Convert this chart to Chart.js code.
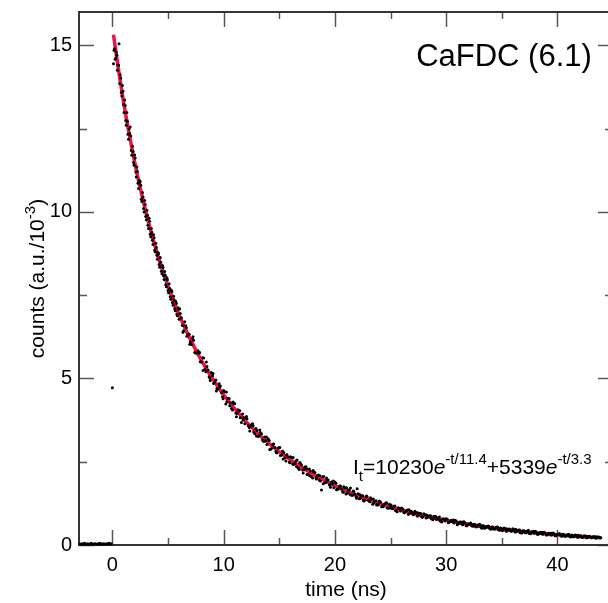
<!DOCTYPE html>
<html><head><meta charset="utf-8">
<script src="https://cdn.jsdelivr.net/npm/chart.js@4.4.0/dist/chart.umd.min.js"></script>
<style>
html,body{margin:0;padding:0;background:#fff;overflow:hidden;width:608px;height:603px}
#wrap{position:absolute;left:0;top:0;width:620px;height:603px}
</style>
</head><body><div id="wrap"><canvas id="c" width="620" height="603"></canvas></div>
<script>
// ---- measured decay (time in ns, counts in a.u./10^-3) ----
const decayTime = [
-2.9,-2.8,-2.7,-2.6,-2.5,-2.4,-2.3,-2.2,-2.1,-2.0,-1.9,-1.8,-1.7,-1.6,-1.5,-1.4,-1.3,-1.2,-1.1,-1.0,-0.9,-0.8,-0.7,-0.6,-0.5,-0.4,-0.3,-0.2,-0.1,
0.0,
0.1,0.2,0.3,0.4,0.5,0.6,0.7,0.8,0.9,1.0,1.1,1.2,1.3,1.4,1.5,1.6,1.7,1.8,1.9,2.0,
2.1,2.2,2.3,2.4,2.5,2.6,2.7,2.8,2.9,3.0,3.1,3.2,3.3,3.4,3.5,3.6,3.7,3.8,3.9,4.0,
4.1,4.2,4.3,4.4,4.5,4.6,4.7,4.8,4.9,5.0,5.1,5.2,5.3,5.4,5.5,5.6,5.7,5.8,5.9,6.0,
6.1,6.3,6.5,6.7,6.9,7.1,7.3,7.5,7.7,7.9,8.1,8.3,8.5,8.7,8.9,9.1,9.3,9.5,9.7,9.9,
10.1,10.3,10.5,10.7,10.9,11.1,11.3,11.5,11.7,11.9,12.1,12.3,12.5,12.7,12.9,13.1,13.3,13.5,13.7,13.9,
14.1,14.3,14.5,14.7,14.9,15.1,15.3,15.5,15.7,15.9,16.1,16.3,16.5,16.7,16.9,17.1,17.3,17.5,17.7,17.9,
18.1,18.3,18.5,18.7,18.9,19.1,19.3,19.5,19.7,19.9,20.1,20.3,20.5,20.7,20.9,21.1,21.3,21.5,21.7,21.9,
22.1,22.3,22.5,22.7,22.9,23.1,23.3,23.5,23.7,23.9,24.1,24.3,24.5,24.7,24.9,25.1,25.3,25.5,25.7,25.9,
26.1,26.3,26.5,26.7,26.9,27.1,27.3,27.5,27.7,27.9,28.1,28.3,28.5,28.7,28.9,29.1,29.3,29.5,29.7,29.9,
30.1,30.3,30.5,30.7,30.9,31.1,31.3,31.5,31.7,31.9,32.1,32.3,32.5,32.7,32.9,33.1,33.3,33.5,33.7,33.9,
34.1,34.3,34.5,34.7,34.9,35.1,35.3,35.5,35.7,35.9,36.1,36.3,36.5,36.7,36.9,37.1,37.3,37.5,37.7,37.9,
38.1,38.3,38.5,38.7,38.9,39.1,39.3,39.5,39.7,39.9,40.1,40.3,40.5,40.7,40.9,41.1,41.3,41.5,41.7,41.9,
42.1,42.3,42.5,42.7,42.9,43.1,43.3,43.5,43.7,43.9,
0.15,0.25,0.35,0.45,0.55,0.65,0.75,0.85,0.95,1.05,1.15,1.25,1.35,1.45,1.55,1.65,1.75,1.85,1.95,2.05,
2.15,2.25,2.35,2.45,2.55,2.65,2.75,2.85,2.95,3.05,3.15,3.25,3.35,3.45,3.55,3.65,3.75,3.85,3.95,4.05,
4.15,4.25,4.35,4.45,4.55,4.65,4.75,4.85,4.95,5.05,5.15,5.25,5.35,5.45,5.55,5.65,5.75,5.85,5.95,
6.2,6.4,6.6,6.8,7.0,7.2,7.4,7.6,7.8,8.0,8.2,8.4,8.6,8.8,9.0,9.2,9.4,9.6,9.8,10.0,
10.2,10.4,10.6,10.8,11.0,11.2,11.4,11.6,11.8,12.0,12.2,12.4,12.6,12.8,13.0,13.2,13.4,13.6,13.8,14.0,
14.2,14.4,14.6,14.8,15.0,15.2,15.4,15.6,15.8,16.0,16.2,16.4,16.6,16.8,17.0,17.2,17.4,17.6,17.8,18.0,
18.2,18.4,18.6,18.8,19.0,19.2,19.4,19.6,19.8,20.0,20.2,20.4,20.6,20.8,21.0,21.2,21.4,21.6,21.8,22.0,
22.2,22.4,22.6,22.8,23.0,23.2,23.4,23.6,23.8,24.0,24.2,24.4,24.6,24.8,25.0,25.2,25.4,25.6,25.8,26.0,
26.2,26.4,26.6,26.8,27.0,27.2,27.4,27.6,27.8,28.0,28.2,28.4,28.6,28.8,29.0,29.2,29.4,29.6,29.8,30.0,
30.2,30.4,30.6,30.8,31.0,31.2,31.4,31.6,31.8,32.0,32.2,32.4,32.6,32.8,33.0,33.2,33.4,33.6,33.8,34.0,
34.2,34.4,34.6,34.8,35.0,35.2,35.4,35.6,35.8,36.0,36.2,36.4,36.6,36.8,37.0,37.2,37.4,37.6,37.8,38.0,
38.2,38.4,38.6,38.8,39.0,39.2,39.4,39.6,39.8,40.0,40.2,40.4,40.6,40.8,41.0,41.2,41.4,41.6,41.8,42.0,
42.2,42.4,42.6,42.8,43.0,43.2,43.4,43.6,43.8,
6.05,6.35,6.65,6.95,7.25,7.55,7.85,8.15,8.45,8.75,9.05,9.35,9.65,9.95,10.25,10.55,10.85,11.15,11.45,11.75,
12.05,12.35,12.65,12.95,13.25,13.55,13.85,14.15,14.45,14.75,15.05,15.35,15.65,15.95,16.25,16.55,16.85,17.15,17.45,17.75,
18.05,18.35,18.65,18.95,19.25,19.55,19.85,20.15,20.45,20.75,21.05,21.35,21.65,21.95,22.25,22.55,22.85,23.15,23.45,23.75,
24.05,24.35,24.65,24.95,
25.05,25.45,25.85,26.25,26.65,27.05,27.45,27.85,28.25,28.65,29.05,29.45,29.85,30.25,30.65,31.05,31.45,31.85,32.25,32.65,
33.05,33.45,33.85,34.25,34.65,35.05,35.45,35.85,36.25,36.65,37.05,37.45,37.85,38.25,38.65,39.05,39.45,39.85,40.25,40.65,
41.05,41.45,41.85,42.25,42.65,43.05,43.45,43.85
];
const decayCounts = [
0.03,0.02,0.04,0.03,0.05,0.02,0.03,0.04,0.02,0.03,0.05,0.03,0.02,0.04,0.03,0.02,0.04,0.03,0.05,0.02,0.03,0.04,0.03,0.02,0.04,0.03,0.05,0.03,0.04,
4.72,
14.45,14.90,14.62,14.70,14.41,15.05,14.12,13.58,13.79,13.22,13.36,12.74,12.98,12.33,12.49,12.55,11.84,11.97,11.48,11.71,
11.20,11.35,10.86,10.95,10.91,10.38,10.58,10.10,10.34,9.86,10.05,9.60,9.81,9.33,9.50,9.15,9.31,8.85,9.06,8.70,
8.78,8.42,8.63,8.22,8.39,8.08,8.21,7.81,8.02,7.64,7.84,7.45,7.65,7.28,7.47,7.10,7.31,6.93,7.12,6.78,
6.95,6.59,6.70,6.27,6.33,6.02,6.15,5.76,5.83,5.50,5.62,5.27,5.36,5.05,5.18,4.85,4.95,4.68,4.77,4.45,
4.60,4.30,4.40,4.10,4.24,3.96,4.06,3.82,3.93,3.64,3.79,3.53,3.61,3.39,3.50,3.26,3.38,3.15,3.24,3.02,
3.14,2.90,3.03,2.81,2.91,2.69,2.82,2.61,2.71,2.49,2.63,2.42,2.52,2.31,2.45,2.25,2.34,2.12,2.28,2.05,
2.19,2.01,2.10,1.92,2.05,1.87,1.96,1.81,1.89,1.72,1.85,1.68,1.77,1.60,1.72,1.56,1.65,1.49,1.61,1.45,
1.54,1.40,1.48,1.34,1.45,1.31,1.38,1.26,1.33,1.20,1.29,1.18,1.24,1.12,1.22,1.10,1.16,1.04,1.12,1.02,
1.08,0.99,1.05,0.94,1.00,0.92,0.97,0.88,0.95,0.85,0.91,0.83,0.88,0.79,0.86,0.77,0.82,0.74,0.79,0.72,
0.77,0.69,0.74,0.66,0.72,0.64,0.69,0.61,0.67,0.60,0.64,0.58,0.62,0.55,0.60,0.54,0.58,0.52,0.56,0.50,
0.54,0.48,0.53,0.46,0.51,0.45,0.49,0.43,0.48,0.42,0.46,0.40,0.45,0.39,0.43,0.37,0.42,0.36,0.40,0.35,
0.39,0.33,0.38,0.32,0.36,0.31,0.35,0.30,0.34,0.29,0.33,0.28,0.32,0.27,0.31,0.26,0.30,0.25,0.29,0.24,
0.28,0.23,0.27,0.22,0.26,0.22,0.25,0.21,0.24,0.22,
14.85,14.58,14.80,14.25,14.40,13.85,14.02,13.48,13.62,12.98,13.19,12.60,12.71,12.18,12.35,12.28,11.70,11.81,11.40,11.62,
11.05,11.21,10.70,10.88,10.80,10.31,10.45,10.00,10.22,9.76,9.90,9.50,9.72,9.25,9.38,9.02,9.22,8.80,8.93,8.58,
8.75,8.34,8.49,8.14,8.33,7.97,8.10,7.75,7.96,7.57,7.70,7.38,7.60,7.20,7.36,7.03,7.25,6.88,7.08,
6.82,6.43,6.58,6.33,6.10,6.21,5.78,5.77,5.76,5.49,5.61,5.20,5.25,4.94,5.08,4.89,4.70,4.84,4.57,4.64,
4.23,4.40,4.27,4.05,4.25,3.95,4.03,3.68,3.83,3.82,3.59,3.56,3.64,3.34,3.44,3.28,3.34,3.11,3.13,3.19,
2.87,3.00,2.93,2.77,2.93,2.70,2.78,2.52,2.64,2.65,2.43,2.45,2.55,2.27,2.40,2.26,2.35,2.12,2.22,2.01,
2.18,2.07,1.95,1.65,2.06,1.88,1.95,1.73,1.84,1.89,1.67,1.75,1.67,1.75,1.53,1.65,1.71,1.49,1.53,1.69,
1.39,1.48,1.32,1.45,1.34,1.42,1.22,1.32,1.22,1.32,1.15,1.21,1.27,1.10,1.18,1.09,1.17,1.00,1.08,1.11,
0.98,1.01,0.92,1.02,0.94,1.01,0.87,0.94,0.85,0.94,0.81,0.86,0.88,0.76,0.83,0.77,0.84,0.69,0.77,0.79,
0.67,0.73,0.69,0.74,0.61,0.69,0.63,0.70,0.58,0.63,0.66,0.56,0.61,0.55,0.62,0.50,0.57,0.53,0.57,0.47,
0.54,0.48,0.54,0.44,0.49,0.51,0.41,0.47,0.42,0.49,0.39,0.43,0.45,0.36,0.42,0.37,0.44,0.34,0.38,0.41,
0.32,0.37,0.34,0.38,0.30,0.35,0.30,0.36,0.28,0.32,0.34,0.26,0.31,0.27,0.32,0.24,0.28,0.30,0.23,0.28,
0.23,0.28,0.22,0.26,0.23,0.25,0.21,0.24,0.22,
7.09,6.39,6.52,6.03,6.25,5.76,5.78,5.24,5.49,5.01,5.15,4.62,4.76,4.39,4.59,4.18,4.29,3.85,4.03,3.75,
3.86,3.42,3.58,3.27,3.45,3.14,3.24,2.87,3.03,2.77,2.93,2.58,2.70,2.47,2.63,2.36,2.48,2.16,2.29,2.08,
2.24,1.98,2.08,1.84,2.01,1.80,1.92,1.66,1.77,1.58,1.72,1.52,1.62,1.40,1.51,1.35,1.47,1.30,1.38,1.20,
1.28,1.15,1.26,1.11,
1.20,1.03,1.09,0.97,1.06,0.91,0.97,0.83,0.90,0.80,0.86,0.72,0.78,0.68,0.75,0.64,0.69,0.58,0.63,0.55,
0.61,0.50,0.55,0.48,0.53,0.43,0.49,0.42,0.47,0.37,0.42,0.35,0.41,0.33,0.38,0.31,0.35,0.28,0.32,0.26,
0.31,0.25,0.29,0.23,0.26,0.22,0.25,0.22
];
// ---- fitted bi-exponential curve ----
const fitTime = [0.1,0.5,1,1.5,2,2.5,3,3.5,4,4.5,5,6,7,8,9,10,11,12,13,14,15,16,17,18,19,20,22,24,26,28,30,32,34,36,38,40,42,43.9];
const fitCounts = [15.32,14.38,13.31,12.36,11.50,10.72,10.01,9.37,8.79,8.26,7.77,6.91,6.18,5.54,4.99,4.51,4.09,3.71,3.37,3.07,2.80,2.56,2.33,2.13,1.95,1.78,1.49,1.25,1.05,0.88,0.74,0.62,0.52,0.435,0.365,0.306,0.257,0.218];

// ---- axes ----
const xMajorTicks = [0,10,20,30,40];
const xMinorTicks = [5,15,25,35];
const yMajorTicks = [0,5,10,15];
const yMinorTicks = [2.5,7.5,12.5];
const xRange = [-3,45];
const yRange = [0,16];

// ---- texts ----
const sampleLabel = 'CaFDC (6.1)';
const xTitle = 'time (ns)';
const yTitleParts = ['counts (a.u./10','-3',')'];
const eqParts = [
  {t:'I',k:'n'},{t:'t',k:'sub'},{t:'=10230',k:'n'},{t:'e',k:'i'},{t:'-t/11.4',k:'sup'},
  {t:'+5339',k:'n'},{t:'e',k:'i'},{t:'-t/3.3',k:'sup'}
];
const sampleLabelPos = {x:43.1, y:14.38};
const eqPos = {x:21.63, y:2.13};

const FONT = '"Liberation Sans", Arial, Helvetica, sans-serif';
const scatterData = decayTime.map((t,i)=>({x:t,y:decayCounts[i]}));
const fitData = fitTime.map((t,i)=>({x:t,y:fitCounts[i]}));

const framePlugin = {
  id:'frame',
  beforeDatasetsDraw(chart){
    const ctx=chart.ctx, a=chart.chartArea, xs=chart.scales.x, ys=chart.scales.y;
    ctx.save();
    ctx.strokeStyle='#555'; ctx.lineWidth=1.5;
    const seg=(x1,y1,x2,y2)=>{ctx.beginPath();ctx.moveTo(x1,y1);ctx.lineTo(x2,y2);ctx.stroke();};
    const vt=(v,len)=>{const p=Math.round(xs.getPixelForValue(v))+0.5; seg(p,a.bottom,p,a.bottom-len); seg(p,a.top,p,a.top+len);};
    const ht=(v,len)=>{const p=Math.round(ys.getPixelForValue(v))+0.5; seg(a.left,p,a.left+len,p); seg(a.right,p,a.right-len,p);};
    xMajorTicks.forEach(v=>vt(v,15)); xMinorTicks.forEach(v=>vt(v,7));
    yMajorTicks.forEach(v=>ht(v,15)); yMinorTicks.forEach(v=>ht(v,8));
    ctx.strokeStyle='#333'; ctx.lineWidth=2;
    ctx.strokeRect(a.left,a.top,a.right-a.left,a.bottom-a.top);
    ctx.restore();
  },
  afterDraw(chart){
    const ctx=chart.ctx, a=chart.chartArea, xs=chart.scales.x, ys=chart.scales.y;
    ctx.save();
    ctx.fillStyle='#000';
    ctx.font='21px '+FONT; ctx.textAlign='center'; ctx.textBaseline='alphabetic';
    ctx.fillText(xTitle,(a.left+a.right)/2,596);
    ctx.save();
    ctx.translate(44,(a.top+a.bottom)/2);
    ctx.rotate(-Math.PI/2);
    ctx.textAlign='left';
    const fMain='21px '+FONT, fSup='15px '+FONT;
    ctx.font=fMain; const w0=ctx.measureText(yTitleParts[0]).width, w2=ctx.measureText(yTitleParts[2]).width;
    ctx.font=fSup; const w1=ctx.measureText(yTitleParts[1]).width;
    let x=-(w0+w1+w2)/2;
    ctx.font=fMain; ctx.fillText(yTitleParts[0],x,0); x+=w0;
    ctx.font=fSup; ctx.fillText(yTitleParts[1],x,-9); x+=w1;
    ctx.font=fMain; ctx.fillText(yTitleParts[2],x,0);
    ctx.restore();
    ctx.font='31px '+FONT; ctx.textAlign='right';
    ctx.fillText(sampleLabel,xs.getPixelForValue(sampleLabelPos.x),ys.getPixelForValue(sampleLabelPos.y));
    ctx.textAlign='left';
    let ex=xs.getPixelForValue(eqPos.x); const ey=ys.getPixelForValue(eqPos.y);
    eqParts.forEach(p=>{
      let dy=0;
      if(p.k==='n') ctx.font='21px '+FONT;
      else if(p.k==='i') ctx.font='italic 21px '+FONT;
      else if(p.k==='sub'){ctx.font='15px '+FONT; dy=7;}
      else {ctx.font='15px '+FONT; dy=-10;}
      ctx.fillText(p.t,ex,ey+dy);
      ex+=ctx.measureText(p.t).width;
    });
    ctx.restore();
  }
};

new Chart(document.getElementById('c'),{
  type:'scatter',
  data:{datasets:[
    {label:'data',data:scatterData,pointRadius:1.5,pointHoverRadius:1.5,pointBackgroundColor:'#000',pointBorderWidth:0,showLine:false,clip:false,order:0},
    {label:'fit',data:fitData,showLine:true,pointRadius:0,borderColor:'rgb(238,16,70)',borderWidth:3.5,cubicInterpolationMode:'monotone',fill:false,order:1}
  ]},
  options:{
    responsive:false,animation:false,devicePixelRatio:1,
    layout:{padding:{left:0,top:12,right:7,bottom:0}},
    plugins:{legend:{display:false},tooltip:{enabled:false}},
    scales:{
      x:{type:'linear',min:xRange[0],max:xRange[1],
        grid:{display:false,drawTicks:false},border:{display:false},
        afterBuildTicks:s=>{s.ticks=xMajorTicks.map(v=>({value:v}));},
        afterFit:s=>{s.height=58;s.paddingLeft=0;s.paddingRight=0;},
        ticks:{font:{family:FONT,size:20},color:'#000',padding:8,maxRotation:0,autoSkip:false}},
      y:{type:'linear',min:yRange[0],max:yRange[1],
        grid:{display:false,drawTicks:false},border:{display:false},
        afterBuildTicks:s=>{s.ticks=yMajorTicks.map(v=>({value:v}));},
        afterFit:s=>{s.width=79;s.paddingTop=0;s.paddingBottom=0;},
        ticks:{font:{family:FONT,size:20},color:'#000',padding:7,autoSkip:false}}
    }
  },
  plugins:[framePlugin]
});
</script></body></html>
